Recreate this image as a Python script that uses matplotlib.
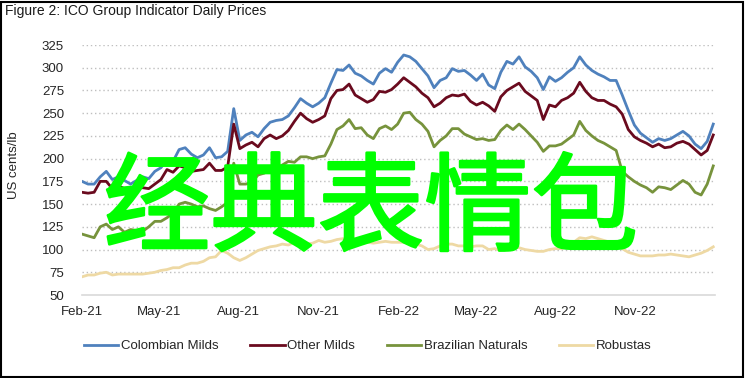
import matplotlib
matplotlib.use("Agg")
import matplotlib.pyplot as plt
import matplotlib.dates as mdates
import matplotlib.patheffects as pe
from matplotlib.patches import Rectangle
import pandas as pd

title = "Figure 2: ICO Group Indicator Daily Prices"
ylabel = "US cents/lb"
series_names = ["Colombian Milds", "Other Milds", "Brazilian Naturals", "Robustas"]
colors = ["#4F81BD", "#6A0A1E", "#77933C", "#EED9A4"]
overlay_text = "经典表情包"

# weekly observations starting 2021-02-01
dates = pd.date_range("2021-02-01", periods=105, freq="7D")

colombian = [175, 172, 172, 180, 186, 177, 180, 176, 172, 176, 180, 178, 186, 190, 199,
             197, 210, 212, 205, 201, 204, 212, 201, 202, 208, 255, 220, 226, 229, 224,
             233, 240, 242, 243, 247, 256, 266, 261, 257, 261, 267, 283, 298, 297, 303,
             294, 291, 286, 282, 294, 299, 295, 306, 314, 312, 307, 299, 291, 278, 286,
             289, 299, 296, 297, 292, 286, 293, 281, 277, 295, 307, 304, 312, 301, 296,
             289, 276, 290, 285, 289, 295, 300, 312, 303, 297, 293, 290, 286, 286, 270,
             253, 237, 228, 223, 218, 222, 220, 222, 226, 230, 225, 216, 211, 219, 238]

other_milds = [163, 162, 163, 175, 175, 167, 170, 167, 165, 168, 168, 167, 172, 177, 188,
               185, 192, 190, 186, 187, 188, 195, 187, 187, 191, 238, 211, 215, 218, 213,
               222, 226, 222, 225, 231, 241, 250, 244, 240, 243, 247, 266, 275, 276, 282,
               270, 266, 262, 265, 274, 273, 276, 282, 289, 284, 279, 272, 267, 257, 261,
               267, 270, 269, 271, 263, 259, 262, 258, 252, 268, 275, 279, 283, 274, 269,
               264, 243, 259, 257, 264, 267, 272, 284, 274, 267, 264, 264, 260, 257, 249,
               232, 224, 220, 217, 213, 216, 212, 213, 217, 219, 216, 210, 204, 209, 226]

brazilian = [117, 115, 113, 125, 128, 122, 125, 119, 122, 121, 120, 125, 131, 131, 135,
             140, 150, 152, 150, 147, 148, 145, 143, 147, 152, 195, 172, 172, 174, 182,
             184, 188, 188, 193, 197, 196, 202, 202, 200, 202, 203, 216, 232, 236, 243,
             233, 234, 226, 222, 233, 236, 232, 238, 250, 251, 243, 238, 230, 213, 220,
             225, 233, 233, 227, 224, 221, 222, 220, 221, 231, 237, 232, 238, 232, 225,
             218, 208, 214, 214, 216, 221, 226, 241, 231, 225, 220, 217, 213, 209, 186,
             180, 175, 171, 168, 163, 169, 168, 166, 171, 176, 172, 163, 160, 172, 192]

robustas = [70, 72, 72, 74, 75, 72, 73, 73, 73, 73, 73, 74, 75, 77, 78,
            80, 80, 83, 85, 85, 87, 91, 92, 99, 96, 91, 88, 91, 95, 99,
            101, 103, 104, 106, 105, 108, 109, 106, 107, 110, 108, 109, 111, 112, 110,
            108, 109, 108, 107, 108, 109, 108, 108, 108, 107, 106, 104, 100, 101, 104,
            106, 106, 104, 104, 103, 104, 104, 100, 101, 99, 101, 104, 102, 100, 99,
            98, 98, 100, 101, 101, 103, 108, 113, 112, 114, 112, 110, 108, 104, 101,
            97, 95, 93, 93, 93, 94, 94, 95, 94, 93, 92, 94, 96, 99, 103]

yticks = [50, 75, 100, 125, 150, 175, 200, 225, 250, 275, 300, 325]
xtick_dates = pd.to_datetime(["2021-02-01", "2021-05-01", "2021-08-01", "2021-11-01",
                              "2022-02-01", "2022-05-01", "2022-08-01", "2022-11-01"])
xlim = pd.to_datetime(["2021-02-01", "2023-02-01"])

sans = ["Liberation Sans", "DejaVu Sans"]

fig = plt.figure(figsize=(7.45, 3.78), dpi=100)
ax = fig.add_axes([82 / 745, 1 - 295 / 378, (715 - 82) / 745, (295 - 45) / 378])

for vals, name, c in zip([colombian, other_milds, brazilian, robustas], series_names, colors):
    ax.plot(dates, vals, color=c, lw=2.0, label=name, solid_joinstyle="round")

ax.set_ylim(50, 325)
ax.set_xlim(xlim[0], xlim[1])
ax.set_yticks(yticks)
ax.set_xticks(xtick_dates)
ax.xaxis.set_major_formatter(mdates.DateFormatter("%b-%y"))
for gy in yticks[1:]:
    ax.axhline(gy, color="#BFBFBF", lw=1.0, ls=(0, (1, 2)), zorder=0)
for s in ["top", "right", "left"]:
    ax.spines[s].set_visible(False)
ax.spines["bottom"].set_color("#D9D9D9")
ax.spines["bottom"].set_linewidth(1.2)
ax.tick_params(axis="both", length=0, labelsize=9.5, colors="#262626")
ax.tick_params(axis="y", pad=13)
ax.tick_params(axis="x", pad=8)
for lab in ax.get_xticklabels() + ax.get_yticklabels():
    lab.set_fontfamily(sans)
ax.set_ylabel(ylabel, fontsize=9.5, family=sans, color="#262626")
ax.yaxis.set_label_coords(-62 / 633, 0.52)

fig.text(5 / 745, 1 - 11 / 378, title, fontsize=10, family=sans,
         ha="left", va="center", color="#1a1a1a")

leg = fig.legend(loc="center", bbox_to_anchor=(368 / 745, 1 - 346 / 378), ncol=4, frameon=False,
                 handlelength=2.6, handletextpad=0.2, columnspacing=2.4,
                 prop={"family": sans, "size": 9.5})
for t in leg.get_texts():
    t.set_color("#262626")

fig.text(371 / 745, 1 - 212 / 378, overlay_text, fontsize=77, color="#00FF00",
         family=["Noto Sans CJK SC", "DejaVu Sans"], fontweight="medium",
         ha="center", va="center", zorder=10,
         path_effects=[pe.withStroke(linewidth=1.8, foreground="#00FF00")])

fig.patches.append(Rectangle((0.5 / 745, 1.5 / 378), 742 / 745, 375 / 378, transform=fig.transFigure,
                             fill=False, edgecolor="black", lw=1.5, zorder=20))

fig.savefig("out.png", dpi=100)
